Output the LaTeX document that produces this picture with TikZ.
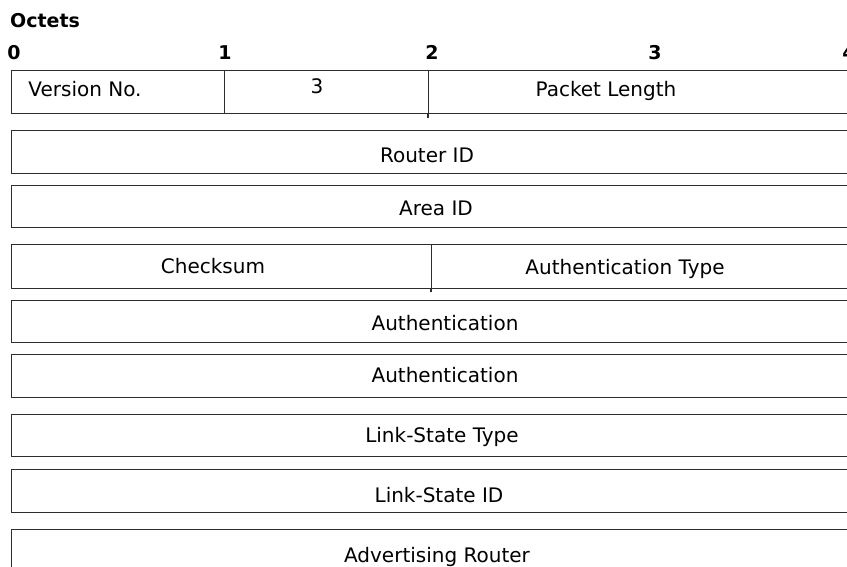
\documentclass[tikz,border=0pt]{standalone}
\usepackage{fontspec}
\setmainfont{DejaVu Sans}
\usetikzlibrary{positioning}
\definecolor{rule}{RGB}{45,45,45}

\begin{document}
\begin{tikzpicture}[
  x=1pt,y=-1pt,
  font=\fontsize{20}{22}\selectfont,
  field/.style={draw=rule,line width=1.1pt,inner sep=0pt,anchor=north west},
  txt/.style={inner sep=0pt,anchor=base},
  num/.style={inner sep=0pt,anchor=base,font=\fontsize{19}{21}\selectfont\bfseries},
  sep/.style={draw=rule,line width=1.1pt}
]
\useasboundingbox (0,0) rectangle (847,567);
% header
\node[num,anchor=base west](oct) at (10,28){Octets};
\foreach \n/\x in {0/14,1/225,2/432,3/655,4/849}
  \node[num](o\n) at (\x,60){\n};
% row 1
\node[field,minimum width=213,minimum height=43](ver) at (11,70){};
\node[field,minimum width=204,minimum height=43](three) at (224,70){};
\node[field,minimum width=424,minimum height=43](plen) at (428,70){};
\draw[sep](plen.south west)--++(0,4);
\node[txt](tver) at (85,97){Version No.};
\node[txt](tthree) at (317,94){3};
\node[txt](tplen) at (606,97){Packet Length};
% full-width rows
\foreach \nm/\y/\h/\xt/\yt/\lb in {
    rid/130/43/427/163/Router ID,
    aid/185/42/436/215/Area ID,
    au1/300/42/445/330/Authentication,
    au2/354/43/445/382/Authentication,
    lst/414/42/442/442/Link-State Type,
    lsid/469/43/439/502/Link-State ID,
    adv/529/48/437/562/Advertising Router}{
  \node[field,minimum width=841,minimum height=\h](\nm) at (11,\y){};
  \node[txt](t\nm) at (\xt,\yt){\lb};
}
% checksum row
\node[field,minimum width=420,minimum height=44](cks) at (11,244){};
\node[field,minimum width=421,minimum height=44](atype) at (431,244){};
\draw[sep](atype.south west)--++(0,3);
\node[txt](tcks) at (213,273){Checksum};
\node[txt](tatype) at (625,275){Authentication Type};
\end{tikzpicture}
\end{document}
